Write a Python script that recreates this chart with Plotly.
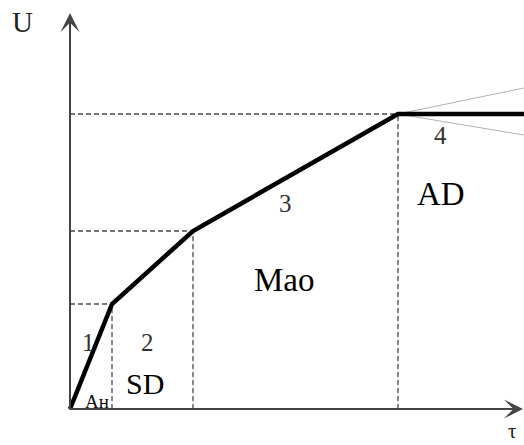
import plotly.graph_objects as go

# Piecewise growth curve U(τ): stage boundaries and the plateau
tau = [0, 42, 123, 328, 454]
U = [0, 105, 178, 295, 295]

# Thin gray fan lines leaving the plateau start
fan_tau = [328, 454]
fan_upper = [295, 321]
fan_lower = [295, 274]

# Stage numbers and zone names: (text, τ, U, size, colour)
stage_labels = [
    ("1", 18, 67, 25, "#333333"),
    ("2", 77, 67, 25, "#333333"),
    ("3", 215, 206, 25, "#333333"),
    ("4", 370, 274, 25, "#333333"),
]
zone_labels = [
    ("Ан", 27, 8, 19, "#111111"),
    ("SD", 75, 26, 30, "#000000"),
    ("Mao", 214, 129, 33, "#000000"),
    ("AD", 371, 215, 33, "#000000"),
]

fig = go.Figure()

# dashed guides from each breakpoint to both axes
for t, u in zip(tau[1:4], U[1:4]):
    fig.add_trace(go.Scatter(x=[0, t], y=[u, u], mode="lines",
                             line=dict(color="#4a4a4a", width=1.3, dash="5px,3px"),
                             hoverinfo="skip"))
    fig.add_trace(go.Scatter(x=[t, t], y=[0, u], mode="lines",
                             line=dict(color="#4a4a4a", width=1.3, dash="5px,3px"),
                             hoverinfo="skip"))

for fan in (fan_upper, fan_lower):
    fig.add_trace(go.Scatter(x=fan_tau, y=fan, mode="lines",
                             line=dict(color="#b0b0b0", width=1),
                             hoverinfo="skip"))

fig.add_trace(go.Scatter(x=tau, y=U, mode="lines",
                         line=dict(color="#000000", width=4.5),
                         hoverinfo="skip"))

annotations = []
# axes with arrowheads
annotations.append(dict(x=0, y=396, ax=0, ay=-2, xref="x", yref="y", axref="x", ayref="y",
                        showarrow=True, arrowhead=3, arrowsize=1.6, arrowwidth=2,
                        arrowcolor="#444444", text=""))
annotations.append(dict(x=453, y=0, ax=-2, ay=0, xref="x", yref="y", axref="x", ayref="y",
                        showarrow=True, arrowhead=3, arrowsize=1.6, arrowwidth=2,
                        arrowcolor="#444444", text=""))
annotations.append(dict(x=-48, y=387, xref="x", yref="y", text="U", showarrow=False,
                        font=dict(family="Liberation Serif", size=29, color="#222222")))
annotations.append(dict(x=442, y=-22, xref="x", yref="y", text="τ", showarrow=False,
                        font=dict(family="Liberation Serif", size=21, color="#222222")))

for text, t, u, size, color in stage_labels + zone_labels:
    annotations.append(dict(x=t, y=u, xref="x", yref="y", text=text, showarrow=False,
                            font=dict(family="Liberation Serif", size=size, color=color)))

fig.update_layout(
    width=524, height=445,
    margin=dict(l=0, r=0, t=0, b=0),
    paper_bgcolor="white", plot_bgcolor="white",
    showlegend=False,
    xaxis=dict(range=[-70, 454], visible=False, fixedrange=True),
    yaxis=dict(range=[-36, 409], visible=False, fixedrange=True),
    annotations=annotations,
)

fig.write_html("out.html")
